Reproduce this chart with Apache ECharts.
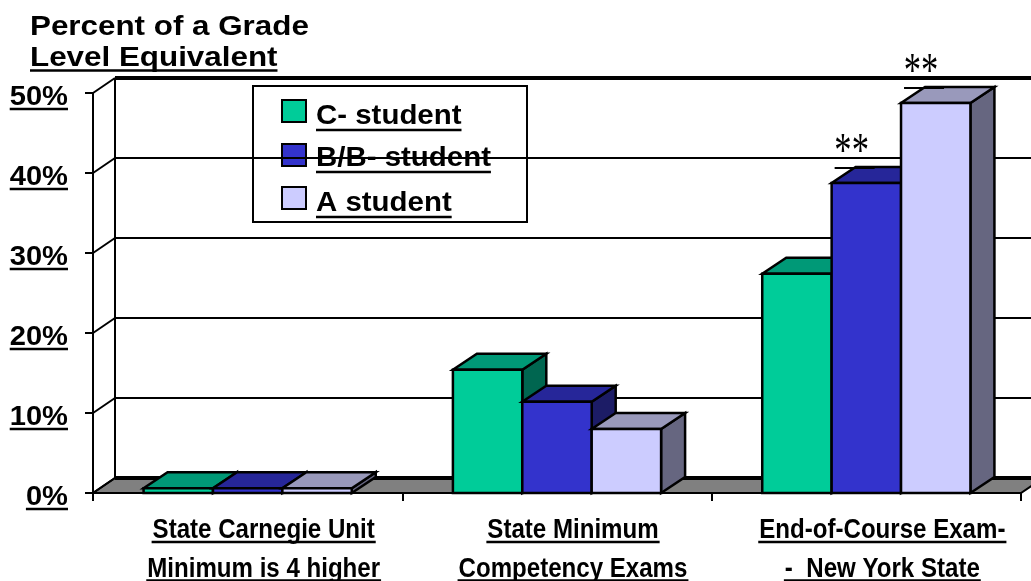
<!DOCTYPE html>
<html><head><meta charset="utf-8">
<script src="https://cdn.jsdelivr.net/npm/echarts@6/dist/echarts.min.js"></script>
<style>html,body{margin:0;padding:0;background:#fff}#c{width:1031px;height:581px}</style>
</head><body><div id="c"></div>
<script>
// ---------- data ----------
const categories = [
  ['State Carnegie Unit', 'Minimum is 4 higher'],
  ['State Minimum', 'Competency Exams'],
  ['End-of-Course Exam-', '-  New York State']
];
const seriesNames = ['C- student', 'B/B- student', 'A student'];
const cStudent = [0.6, 15.4, 27.4];
const bStudent = [0.6, 11.4, 38.75];
const aStudent = [0.6, 8.0, 48.75];
const yTicks = [0, 10, 20, 30, 40, 50];
const yTickLabels = ['0%', '10%', '20%', '30%', '40%', '50%'];
const titleLines = ['Percent of a Grade', 'Level Equivalent'];
const starNotes = [[2, 1], [2, 2]]; // [category index, series index] marked "**"
const starText = '**';

// ---------- style ----------
const FONT = '"Liberation Sans", Arial, sans-serif';
const SERIF = '"Liberation Serif", "Times New Roman", serif';
const faces = [
  { front: '#00CC99', top: '#009977', side: '#006650' },
  { front: '#3333CC', top: '#262699', side: '#1C1C66' },
  { front: '#CCCCFF', top: '#9999BB', side: '#666680' }
];
const WDX = 22, WDY = -15, BDX = 24, BDY = -16, GAP = 0.327;
const seriesVals = [cStudent, bStudent, aStudent];

const mctx = document.createElement('canvas').getContext('2d');
function tw(t, size, weight, fam) { mctx.font = (weight || 'bold') + ' ' + size + 'px ' + (fam || FONT); return mctx.measureText(t).width; }
function txt(t, x, y, size, sx, align, extra) {
  return Object.assign({ type: 'text', x: x, y: y, scaleX: sx,
    style: { text: t, x: 0, y: 0, font: 'bold ' + size + 'px ' + FONT, fill: '#000', align: align, verticalAlign: 'middle' } }, extra || {});
}
function ul(x1, x2, y, extra) {
  return Object.assign({ type: 'line', shape: { x1: x1, y1: y, x2: x2, y2: y }, style: { stroke: '#000', lineWidth: 2.5 } }, extra || {});
}

function renderFrame(params, api) {
  const cs = params.coordSys;
  const idx = params.dataIndex;
  const v = api.value(1);
  const y = api.coord([0, v])[1];
  const x = cs.x, right = cs.x + cs.width;
  const ch = [];
  if (idx === 0) {
    ch.push({ type: 'polygon', shape: { points: [[x, y], [right, y], [right + WDX, y + WDY], [x + WDX, y + WDY]] },
      style: { fill: '#808080', stroke: '#000', lineWidth: 2 } });
    const yTop = api.coord([0, yTicks[yTicks.length - 1]])[1];
    ch.push({ type: 'line', shape: { x1: x + WDX, y1: y + WDY, x2: x + WDX, y2: yTop + WDY }, style: { stroke: '#000', lineWidth: 2 } });
  }
  const edge = (idx === 0 || idx === yTicks.length - 1);
  ch.push({ type: 'line', shape: { x1: x + WDX, y1: y + WDY, x2: right + WDX + 30, y2: y + WDY }, style: { stroke: '#000', lineWidth: edge ? 4 : 2 } });
  ch.push({ type: 'line', shape: { x1: x, y1: y, x2: x + WDX, y2: y + WDY }, style: { stroke: '#000', lineWidth: 2 } });
  const lab = yTickLabels[idx];
  const lx = x - 25, sx = 1.04;
  ch.push(txt(lab, lx, y + 4.3, 28, sx, 'right'));
  const w = tw(lab, 28) * sx;
  ch.push(ul(lx - w, lx, y + 16));
  return { type: 'group', children: ch };
}

function barGeom(api, cat, val, s) {
  const cw = api.size([1, 0])[0];
  const gw = cw * (1 - GAP), bw = gw / 3;
  const cx = api.coord([cat, 0])[0];
  const x0 = cx - gw / 2 + s * bw;
  return { x0: x0, bw: bw, yb: api.coord([cat, 0])[1], yt: api.coord([cat, val])[1] };
}
function makeBar(s) {
  return function (params, api) {
    const g = barGeom(api, api.value(0), api.value(1), s);
    const x0 = g.x0, bw = g.bw, yb = g.yb, yt = g.yt, f = faces[s];
    const st = function (fill) { return { fill: fill, stroke: '#000', lineWidth: 2.5, lineJoin: 'miter' }; };
    return { type: 'group', children: [
      { type: 'polygon', shape: { points: [[x0 + bw, yt], [x0 + bw + BDX, yt + BDY], [x0 + bw + BDX, yb + BDY], [x0 + bw, yb]] }, style: st(f.side) },
      { type: 'polygon', shape: { points: [[x0, yt], [x0 + bw, yt], [x0 + bw + BDX, yt + BDY], [x0 + BDX, yt + BDY]] }, style: st(f.top) },
      { type: 'rect', shape: { x: x0, y: yt, width: bw, height: yb - yt }, style: st(f.front) }
    ] };
  };
}
function renderXLabels(params, api) {
  const i = api.value(0);
  const p = api.coord([i, 0]);
  const cx = p[0] + 16, y0 = p[1];
  const sx = 0.86, ch = [];
  const lines = categories[i];
  const mids = [37.3, 76.3], uls = [49, 87.5];
  lines.forEach(function (t, k) {
    ch.push(txt(t, cx, y0 + mids[k], 28, sx, 'center'));
    const w = tw(t, 28) * sx;
    ch.push(ul(cx - w / 2 - 1, cx + w / 2 + 1, y0 + uls[k]));
  });
  return { type: 'group', children: ch };
}
function renderStars(params, api) {
  const c = api.value(0), v = api.value(1), s = api.value(2);
  const g = barGeom(api, c, v, s);
  return { type: 'group', children: [
    { type: 'text', x: g.x0 + 20, y: g.yt - 30, scaleX: 0.72, style: { text: starText, x: 0, y: 0, font: '48px ' + SERIF, fill: '#000', align: 'center', verticalAlign: 'middle' } },
    { type: 'line', shape: { x1: g.x0 + 3, y1: g.yt - 15, x2: g.x0 + 43, y2: g.yt - 15 }, style: { stroke: '#000', lineWidth: 2 } }
  ] };
}

// ---------- graphic: title + legend ----------
const graphic = [];
const tsx = 1.12;
graphic.push(txt(titleLines[0], 30, 27.3, 28, tsx, 'left', { z: 5 }));
graphic.push(txt(titleLines[1], 30, 58.3, 28, tsx, 'left', { z: 5 }));
graphic.push(ul(30, 30 + tw(titleLines[1], 28) * tsx, 70.5, { z: 5 }));
graphic.push({ type: 'rect', z: 0, shape: { x: 253, y: 86, width: 274, height: 136 }, style: { fill: 'rgba(0,0,0,0)', stroke: '#000', lineWidth: 2 } });
const legY = [100, 144, 187], legMid = [116.6, 158.6, 203.6], legUl = [130, 172, 217];
seriesNames.forEach(function (n, k) {
  graphic.push({ type: 'rect', z: 0, shape: { x: 282, y: legY[k], width: 24, height: 22 }, style: { fill: faces[k].front, stroke: '#000', lineWidth: 2 } });
  const lsx = 1.09;
  graphic.push(txt(n, 316, legMid[k], 27, lsx, 'left', { z: 0 }));
  graphic.push(ul(316, 316 + tw(n, 27) * lsx, legUl[k], { z: 0 }));
});

const chart = echarts.init(document.getElementById('c'), null, { renderer: 'canvas' });
chart.setOption({
  animation: false,
  backgroundColor: '#fff',
  grid: { left: 93, right: 10, top: 93, bottom: 88 },
  xAxis: {
    type: 'category', data: categories.map(function (c) { return c.join(' '); }),
    axisLine: { show: true, lineStyle: { color: '#000', width: 2 } },
    axisTick: { show: true, length: 8, lineStyle: { color: '#000', width: 2 } },
    axisLabel: { show: false }, splitLine: { show: false }
  },
  yAxis: {
    type: 'value', min: 0, max: 50, interval: 10,
    axisLine: { show: true, lineStyle: { color: '#000', width: 2 } },
    axisTick: { show: true, length: 8, lineStyle: { color: '#000', width: 2 } },
    axisLabel: { show: false }, splitLine: { show: false }
  },
  graphic: graphic,
  series: [
    { type: 'custom', name: 'frame', z: 1, silent: true, renderItem: renderFrame, data: yTicks.map(function (v) { return [0, v]; }) },
    { type: 'custom', name: seriesNames[0], z: 3, renderItem: makeBar(0), data: cStudent.map(function (v, i) { return [i, v]; }) },
    { type: 'custom', name: seriesNames[1], z: 3, renderItem: makeBar(1), data: bStudent.map(function (v, i) { return [i, v]; }) },
    { type: 'custom', name: seriesNames[2], z: 3, renderItem: makeBar(2), data: aStudent.map(function (v, i) { return [i, v]; }) },
    { type: 'custom', name: 'labels', z: 4, silent: true, renderItem: renderXLabels, data: categories.map(function (c, i) { return [i, 0]; }) },
    { type: 'custom', name: 'notes', z: 4, silent: true, renderItem: renderStars, data: starNotes.map(function (n) { return [n[0], seriesVals[n[1]][n[0]], n[1]]; }) }
  ]
});
</script></body></html>
